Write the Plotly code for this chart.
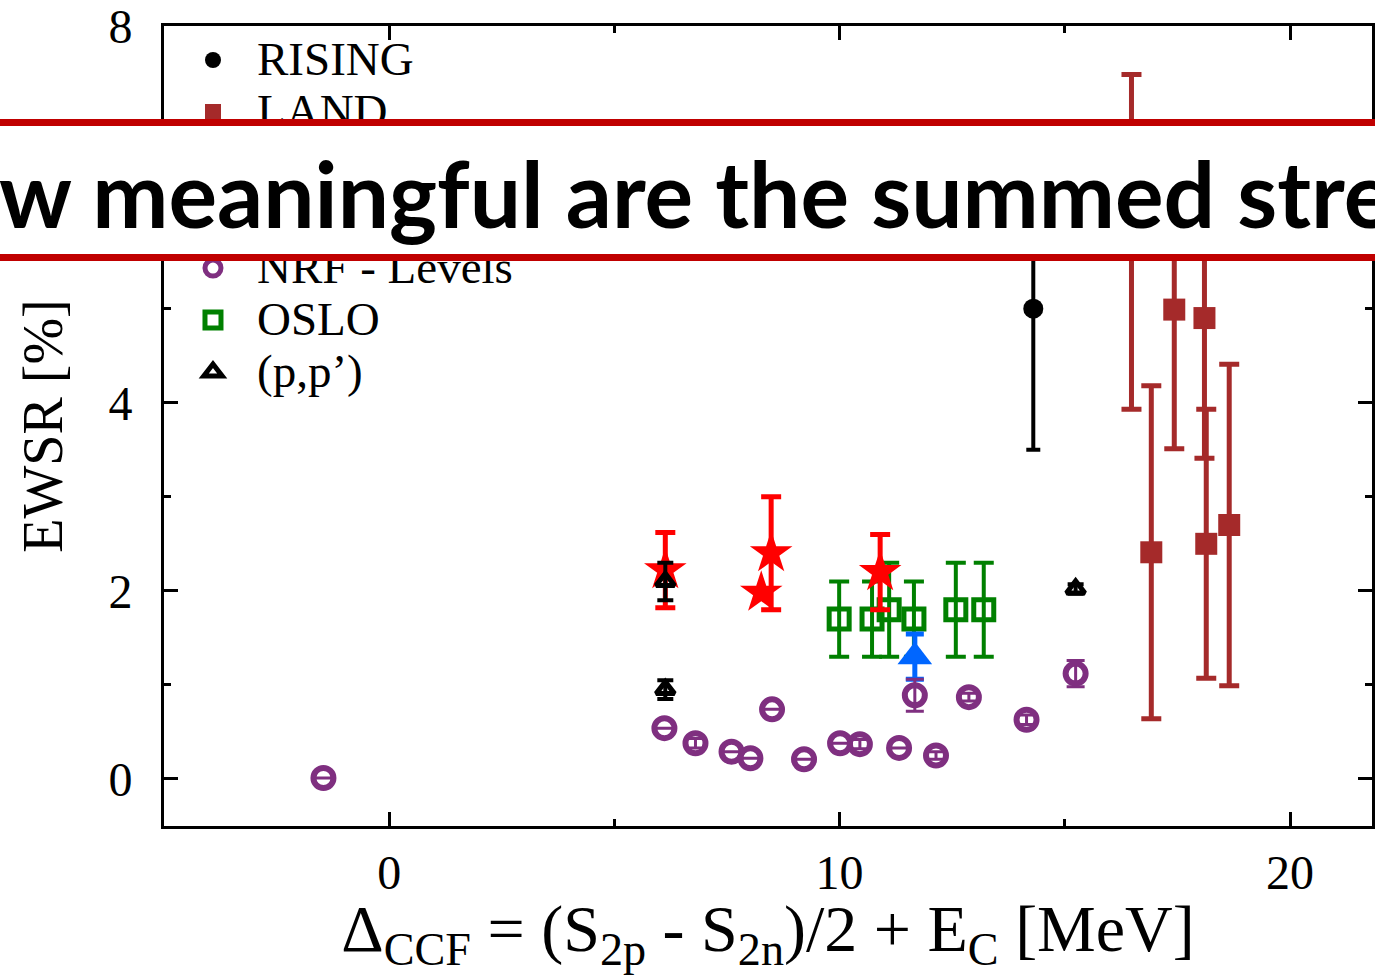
import plotly.graph_objects as go

# ---- data: summed E1 strength (% of EWSR) versus Delta_CCF ----
rising_x = [14.30]
rising_y = [5.00]
rising_err = [1.50]

land_x = [16.48, 16.92, 17.43, 18.10, 18.14, 18.65]
land_y = [5.71, 2.41, 4.99, 4.90, 2.50, 2.70]
land_err = [1.78, 1.77, 1.48, 1.49, 1.43, 1.71]

nrf_sum_x = [6.13, 8.48, 10.90]
nrf_sum_y = [2.22, 2.40, 2.20]
nrf_sum_err = [0.40, 0.60, 0.40]
nrf_sum_x_noerr = [8.26]
nrf_sum_y_noerr = [1.98]

higs_x = [11.67]
higs_y = [1.30]
higs_err = [0.24]

nrf_lev_x = [-1.46, 6.11, 6.80, 7.60, 8.02, 8.50, 9.21, 10.01, 10.45, 11.32,
             11.67, 12.14, 12.87, 14.15, 15.24]
nrf_lev_y = [0.01, 0.54, 0.38, 0.29, 0.22, 0.74, 0.21, 0.38, 0.37, 0.33,
             0.89, 0.25, 0.87, 0.63, 1.12]
nrf_lev_err = [0.0, 0.0, 0.05, 0.0, 0.0, 0.0, 0.0, 0.0, 0.05, 0.0,
               0.17, 0.04, 0.04, 0.05, 0.14]

oslo_x = [9.99, 10.72, 11.10, 11.65, 12.58, 13.20]
oslo_y = [1.70, 1.70, 1.80, 1.70, 1.80, 1.80]
oslo_err = [0.40, 0.40, 0.50, 0.40, 0.50, 0.50]

pp_x = [6.13, 6.13, 15.24]
pp_y = [2.10, 0.95, 2.02]
pp_err = [0.20, 0.10, 0.05]

x_range = [-5, 21.82]
y_range = [-0.5, 8.005]

SERIF = "Liberation Serif, Times New Roman, serif"
C_LAND = "#A52A2A"
C_RED = "#FF0000"
C_BLUE = "#0066FF"
C_PURPLE = "#7F2F80"
C_GREEN = "#008000"


def err(vals, color, thick, width):
    return dict(type="data", array=vals, visible=True, color=color,
                thickness=thick, width=width)


def entry(label):
    # legend entries use a larger glyph size than the row spacing font
    return "<span style='font-size:47px'>" + label + "</span>"


fig = go.Figure()

fig.add_trace(go.Scatter(
    x=rising_x, y=rising_y, mode="markers", name=entry("RISING"),
    legendrank=1,
    marker=dict(symbol="circle", size=20, color="black"),
    error_y=err(rising_err, "black", 4, 7)))

fig.add_trace(go.Scatter(
    x=land_x, y=land_y, mode="markers", name=entry("LAND"), legendrank=2,
    marker=dict(symbol="square", size=22, color=C_LAND),
    error_y=err(land_err, C_LAND, 5, 10)))

fig.add_trace(go.Scatter(
    x=oslo_x, y=oslo_y, mode="markers", name=entry("OSLO"), legendrank=6,
    marker=dict(symbol="square-open", size=20, color=C_GREEN,
                line=dict(width=5, color=C_GREEN)),
    error_y=err(oslo_err, C_GREEN, 4, 10)))

fig.add_trace(go.Scatter(
    x=nrf_sum_x, y=nrf_sum_y, mode="markers", name=entry("NRF - Sum"),
    legendrank=3,
    marker=dict(symbol="star", size=32, color=C_RED),
    error_y=err(nrf_sum_err, C_RED, 5, 10)))

fig.add_trace(go.Scatter(
    x=nrf_sum_x_noerr, y=nrf_sum_y_noerr, mode="markers",
    name=entry("NRF - Sum"), showlegend=False,
    marker=dict(symbol="star", size=32, color=C_RED)))

fig.add_trace(go.Scatter(
    x=higs_x, y=higs_y, mode="markers", name=entry("HI\u03b3S"),
    legendrank=4,
    marker=dict(symbol="triangle-up", size=30, color=C_BLUE),
    error_y=err(higs_err, C_BLUE, 5, 9)))

fig.add_trace(go.Scatter(
    x=nrf_lev_x, y=nrf_lev_y, mode="markers", name=entry("NRF - Levels"),
    legendrank=5,
    marker=dict(symbol="circle-open", size=20, color=C_PURPLE,
                line=dict(width=6, color=C_PURPLE)),
    error_y=err(nrf_lev_err, C_PURPLE, 3, 9)))

fig.add_trace(go.Scatter(
    x=pp_x, y=pp_y, mode="markers", name=entry("(p,p\u2019)"), legendrank=7,
    marker=dict(symbol="triangle-up-open", size=16, color="black",
                line=dict(width=5, color="black")),
    error_y=err(pp_err, "black", 4, 8)))

# plot area geometry (pixels)
L, R, T, B = 164, 0, 23, 149
W, H = 1375, 975
pw, ph = W - L - R, H - T - B


def px_x(p):
    return (p - L) / pw


def px_y(p):
    return (H - B - p) / ph


axis_common = dict(
    showline=True, linewidth=3, linecolor="black", mirror="ticks",
    ticks="inside", ticklen=14, tickwidth=3, tickcolor="black",
    showgrid=False, zeroline=False, ticklabeloverflow="allow",
    tickfont=dict(family=SERIF, size=48, color="black"),
)

fig.update_layout(
    width=W, height=H,
    margin=dict(l=L, r=R, t=T, b=B, pad=0),
    paper_bgcolor="white", plot_bgcolor="white",
    showlegend=True,
    legend=dict(
        x=px_x(169), y=px_y(26), xanchor="left", yanchor="top",
        bgcolor="rgba(0,0,0,0)", borderwidth=0,
        font=dict(family=SERIF, size=37.7, color="black"),
        itemwidth=78, tracegroupgap=0, traceorder="normal",
    ),
    xaxis=dict(
        range=x_range, tick0=0, dtick=10,
        minor=dict(dtick=5, tick0=0, ticks="inside", ticklen=7,
                   tickwidth=3, tickcolor="black"),
        ticklabelstandoff=2,
        title=dict(
            text="\u0394<sub>CCF</sub> = (S<sub>2p</sub> - S<sub>2n</sub>)/2 + "
                 "E<sub>C</sub> [MeV]",
            font=dict(family=SERIF, size=66, color="black"),
            standoff=6),
        **axis_common),
    yaxis=dict(
        range=y_range, tick0=0, dtick=2,
        minor=dict(dtick=1, tick0=0, ticks="inside", ticklen=7,
                   tickwidth=3, tickcolor="black"),
        ticklabelstandoff=19,
        title=dict(text="EWSR [%]",
                   font=dict(family=SERIF, size=56, color="black"),
                   standoff=28),
        **axis_common),
)

# banner across the upper part of the chart
fig.add_annotation(
    xref="paper", yref="paper", x=px_x(687), y=px_y(187.5),
    xanchor="center", yanchor="middle", showarrow=False,
    text=" ", width=1700, height=126,
    bgcolor="white", bordercolor="#C00000", borderwidth=7, borderpad=1)

fig.add_annotation(
    xref="paper", yref="paper", x=px_x(-3), y=px_y(190),
    xanchor="left", yanchor="middle", showarrow=False,
    text="<b>w meaningful are the summed stre</b>",
    font=dict(family="Lato, Carlito, Calibri, sans-serif", size=91,
              color="black"))

fig.write_html("out.html")
